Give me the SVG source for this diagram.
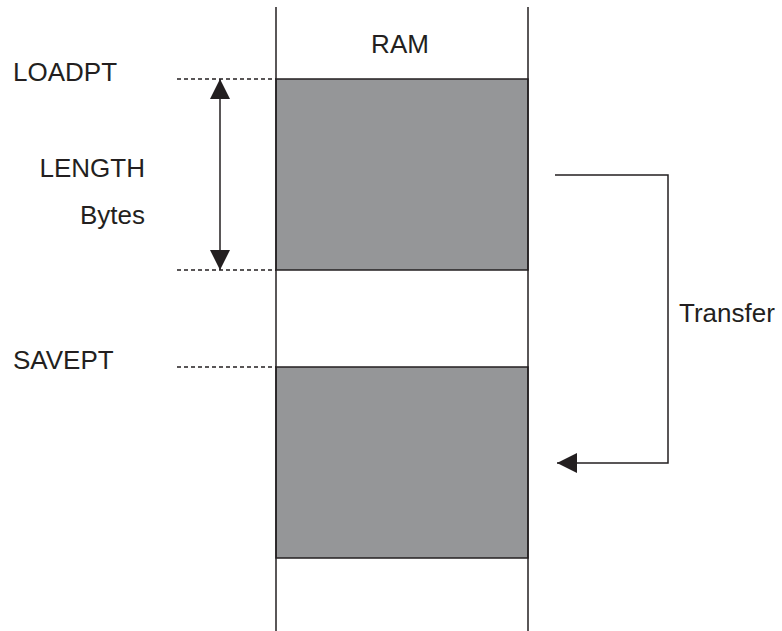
<svg xmlns="http://www.w3.org/2000/svg" width="782" height="631" viewBox="0 0 782 631">
<style>
.t{font-family:"Liberation Sans",Arial,sans-serif;font-size:26px;fill:#231f20}
.ln{stroke:#231f20;stroke-width:1.5;fill:none}
.dash{stroke:#231f20;stroke-width:1.3;stroke-dasharray:4 3;fill:none}
.blk{fill:#959698;stroke:#231f20;stroke-width:1.5}
</style>
<defs>
<marker id="ah" viewBox="0 0 20 20" refX="20" refY="10" markerWidth="20" markerHeight="20" markerUnits="userSpaceOnUse" orient="auto-start-reverse">
<path d="M0,0 L20,10 L0,20 Z" fill="#231f20"/>
</marker>
</defs>
<rect width="782" height="631" fill="#fff"/>
<g id="ram">
<rect class="blk" x="276" y="79" width="252" height="191"/>
<rect class="blk" x="276" y="367" width="252" height="191"/>
<line class="ln" x1="276" y1="7" x2="276" y2="631"/>
<line class="ln" x1="528" y1="7" x2="528" y2="631"/>
<text class="t" x="400" y="53" text-anchor="middle">RAM</text>
</g>
<g id="labels">
<text class="t" x="13" y="81">LOADPT</text>
<text class="t" x="145" y="177" text-anchor="end">LENGTH</text>
<text class="t" x="145" y="224" text-anchor="end">Bytes</text>
<text class="t" x="13" y="369">SAVEPT</text>
<text class="t" x="679" y="322">Transfer</text>
</g>
<g id="connectors">
<line class="dash" x1="177" y1="79" x2="276" y2="79"/>
<line class="dash" x1="177" y1="270" x2="276" y2="270"/>
<line class="dash" x1="177" y1="367" x2="276" y2="367"/>
<line class="ln" x1="220" y1="79" x2="220" y2="270" marker-start="url(#ah)" marker-end="url(#ah)"/>
<polyline class="ln" points="555,175 668,175 668,463 557,463" marker-end="url(#ah)"/>
</g>
</svg>
